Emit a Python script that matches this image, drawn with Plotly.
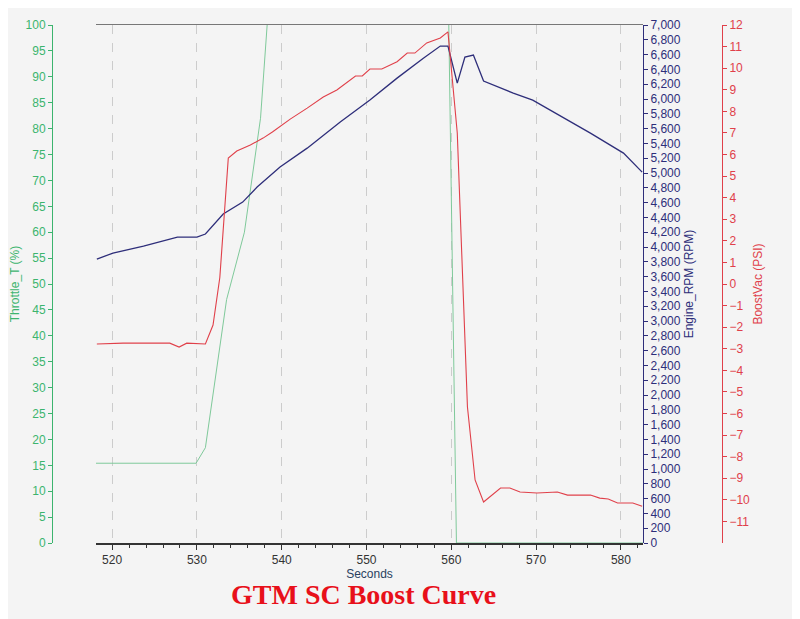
import plotly.graph_objects as go

thr_x = [518.1, 529.9, 531.0, 532.5, 533.5, 535.6, 537.5, 538.5, 558.5, 559.7, 560.6, 583.0]
thr_y = [15.4, 15.4, 18.4, 35, 47, 60, 82, 105, 105, 100, 0, 0]

rpm_x = [518.2, 520.1, 523.7, 527.7, 530.0, 531.0, 533.1, 535.4, 537.1, 539.8, 543.0, 546.9, 550.4,
         553.6, 556.7, 558.7, 559.6, 560.7, 561.6, 562.6, 563.8, 567.3, 569.6, 573.2, 576.4, 580.3, 582.5]
rpm_y = [3836, 3918, 4012, 4134, 4134, 4175, 4445, 4607, 4810, 5080, 5336, 5688, 5985,
         6282, 6552, 6715, 6715, 6215, 6566, 6593, 6242, 6080, 5985, 5755, 5539, 5269, 5012]

bst_x = [518.2, 521.3, 526.8, 527.9, 528.8, 531.0, 531.9, 532.7, 533.7, 534.7, 536.3, 537.8, 538.9,
         541.0, 543.0, 544.9, 546.5, 548.7, 549.5, 550.4, 551.8, 553.6, 554.8, 555.7, 557.1, 558.7,
         559.6, 560.7, 561.9, 562.8, 563.8, 565.8, 566.9, 568.1, 570.1, 572.5, 573.7, 576.4, 577.5,
         578.5, 579.6, 581.4, 582.5]
bst_y = [-2.78, -2.74, -2.74, -2.92, -2.74, -2.78, -1.9, 0.3, 5.84, 6.16, 6.44, 6.76, 7.04,
         7.64, 8.15, 8.66, 8.99, 9.64, 9.64, 9.96, 9.96, 10.3, 10.7, 10.7, 11.17, 11.4,
         11.68, 7.0, -5.7, -9.08, -10.1, -9.45, -9.45, -9.64, -9.68, -9.64, -9.78, -9.78, -9.92,
         -9.96, -10.15, -10.15, -10.3]
bst_ticks = list(range(-11, 13))

GREEN = "#3cb46e"
BLUE = "#2e2e7a"
RED = "#e0404a"
W, H = 792, 611

fig = go.Figure()
fig.add_trace(go.Scatter(x=thr_x, y=thr_y, mode="lines", line=dict(color="#7fc99a", width=1), yaxis="y"))
fig.add_trace(go.Scatter(x=rpm_x, y=rpm_y, mode="lines", line=dict(color=BLUE, width=1.3), yaxis="y2"))
fig.add_trace(go.Scatter(x=bst_x, y=bst_y, mode="lines", line=dict(color=RED, width=1.1), yaxis="y3"))

tf = dict(family="Arial", size=12)
fig.update_layout(
    width=W, height=H, showlegend=False,
    paper_bgcolor="#f4f4f4", plot_bgcolor="#f4f4f4",
    margin=dict(l=0, r=0, t=17, b=76),
    font=tf,
    xaxis=dict(domain=[88/W, 635/W], range=[518.1, 582.6], dtick=10, tick0=520,
               showgrid=True, gridcolor="#cccccc", griddash="dash", zeroline=False,
               showline=True, linecolor="#333", linewidth=2,
               ticks="outside", ticklen=5, tickcolor="#333",
               minor=dict(dtick=2, ticks="outside", ticklen=3, tickcolor="#333"),
               title=dict(text="Seconds", standoff=2, font=tf), tickfont=dict(color="#333")),
    xaxis2=dict(overlaying="x", range=[518.1, 582.6], showline=True, linecolor="#777", linewidth=1,
                side="top", showticklabels=False, showgrid=False, zeroline=False, ticks=""),
    yaxis=dict(range=[0, 100], dtick=5, anchor="free", position=44/W, side="left",
               showgrid=False, zeroline=False, showline=True, linecolor=GREEN,
               ticks="outside", tickcolor=GREEN, ticklen=4, tickfont=dict(color=GREEN),
               title=dict(text="Throttle_T (%)", font=dict(color=GREEN, family="Arial", size=12), standoff=4)),
    yaxis2=dict(range=[0, 7000], dtick=200, tickformat=",d", overlaying="y", anchor="free",
                position=635/W, side="right", showgrid=False, zeroline=False,
                showline=True, linecolor=BLUE, ticks="outside", tickcolor=BLUE, ticklen=4,
                tickfont=dict(color=BLUE),
                title=dict(text="Engine_RPM (RPM)", font=dict(color=BLUE, family="Arial", size=12), standoff=4)),
    yaxis3=dict(range=[-12, 12], tickvals=bst_ticks, overlaying="y", anchor="free", position=714/W,
                side="right", showgrid=False, zeroline=False, showline=True, linecolor=RED,
                ticks="outside", tickcolor=RED, ticklen=4, tickfont=dict(color=RED),
                title=dict(text="BoostVac (PSI)", font=dict(color=RED, family="Arial", size=12), standoff=4)),
    annotations=[dict(text="<b>GTM SC Boost Curve</b>", x=355/W, y=-0.1, xref="paper", yref="paper",
                      yanchor="middle", showarrow=False,
                      font=dict(family="Liberation Serif", size=28, color="#e8101a"))],
)
fig.add_trace(go.Scatter(x=[518.1], y=[None], xaxis="x2", showlegend=False))
fig.write_html("out.html")
